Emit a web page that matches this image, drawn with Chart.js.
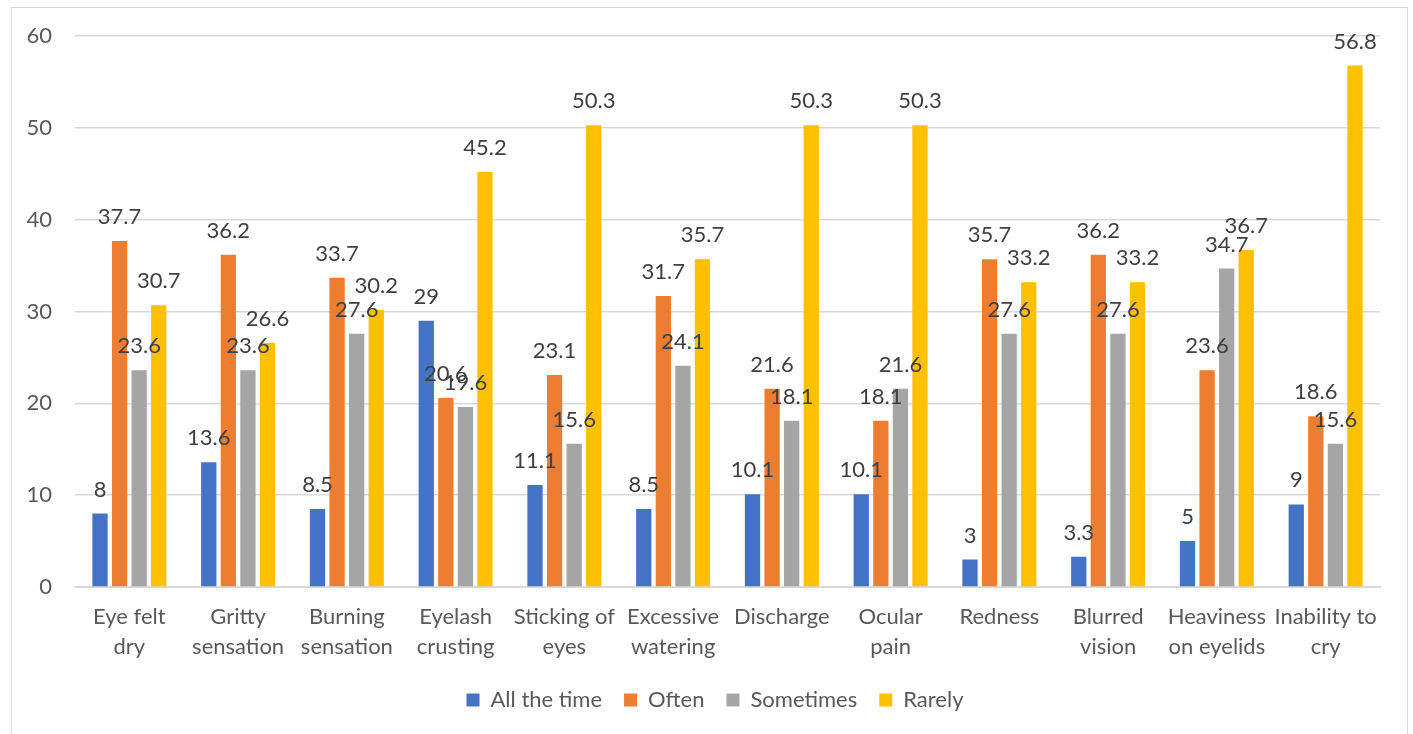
<!doctype html>
<html lang="en">
<head>
<meta charset="utf-8">
<title>Dry eye symptoms frequency</title>
<script src="https://cdn.jsdelivr.net/npm/chart.js@4.4.1/dist/chart.umd.min.js"></script>
<style>
  html, body { margin: 0; padding: 0; background: #fff; overflow: hidden; }
  #wrap { position: relative; width: 1413px; height: 734px; }
  #frame { position: absolute; left: 11px; top: 7px; width: 1397px; height: 760px; border: 1px solid #d9d9d9; box-sizing: border-box; }
  canvas { position: absolute; left: 0; top: 0; }
</style>
</head>
<body>
<div id="wrap">
  <div id="frame"></div>
  <canvas id="myChart" width="1413" height="734"></canvas>
</div>
<script>
// categories (two lines each, as on the axis)
var symptoms = [
  ['Eye felt', 'dry'], ['Gritty', 'sensation'], ['Burning', 'sensation'], ['Eyelash', 'crusting'],
  ['Sticking of', 'eyes'], ['Excessive', 'watering'], ['Discharge'], ['Ocular', 'pain'],
  ['Redness'], ['Blurred', 'vision'], ['Heaviness', 'on eyelids'], ['Inability to', 'cry']
];
var allTheTime = [8, 13.6, 8.5, 29, 11.1, 8.5, 10.1, 10.1, 3, 3.3, 5, 9];
var often      = [37.7, 36.2, 33.7, 20.6, 23.1, 31.7, 21.6, 18.1, 35.7, 36.2, 23.6, 18.6];
var sometimes  = [23.6, 23.6, 27.6, 19.6, 15.6, 24.1, 18.1, 21.6, 27.6, 27.6, 34.7, 15.6];
var rarely     = [30.7, 26.6, 30.2, 45.2, 50.3, 35.7, 50.3, 50.3, 33.2, 33.2, 36.7, 56.8];
var yTicks = [0, 10, 20, 30, 40, 50, 60];

var FONT = 'Lato, "Open Sans", sans-serif';

// value labels over every bar
var barLabels = {
  id: 'barLabels',
  afterDatasetsDraw: function (chart) {
    var ctx = chart.ctx;
    ctx.save();
    ctx.font = '22px ' + FONT;
    ctx.fillStyle = '#404040';
    ctx.textAlign = 'center';
    ctx.textBaseline = 'middle';
    chart.data.datasets.forEach(function (ds, i) {
      chart.getDatasetMeta(i).data.forEach(function (bar, j) {
        ctx.fillText(String(ds.data[j]), bar.x, bar.y - 24);
      });
    });
    ctx.restore();
  }
};

// the legend sits a little right of the canvas centre
var legendShift = {
  id: 'legendShift',
  afterLayout: function (chart) {
    chart.legend.left += 25;
    chart.legend.right += 25;
  }
};

var chart = new Chart(document.getElementById('myChart').getContext('2d'), {
  type: 'bar',
  data: {
    labels: symptoms,
    datasets: [
      { label: 'All the time', data: allTheTime, backgroundColor: '#4472C4' },
      { label: 'Often', data: often, backgroundColor: '#ED7D31' },
      { label: 'Sometimes', data: sometimes, backgroundColor: '#A5A5A5' },
      { label: 'Rarely', data: rarely, backgroundColor: '#FFC000' }
    ]
  },
  options: {
    responsive: false,
    animation: false,
    devicePixelRatio: 1,
    datasets: { bar: { categoryPercentage: 0.72, barPercentage: 0.78 } },
    layout: { padding: { top: 36, right: 33, bottom: 13, left: 0 } },
    scales: {
      x: {
        grid: { display: false, drawTicks: false },
        border: { color: '#d9d9d9', width: 2 },
        ticks: { color: '#595959', font: { family: FONT, size: 22, lineHeight: 1.36 }, padding: 15, maxRotation: 0, autoSkip: false },
        afterFit: function (s) { s.height = 80; }
      },
      y: {
        min: 0, max: 60,
        afterBuildTicks: function (s) { s.ticks = yTicks.map(function (v) { return { value: v }; }); },
        grid: { color: '#d9d9d9', lineWidth: 1.5, drawTicks: false },
        border: { display: false },
        ticks: { color: '#595959', font: { family: FONT, size: 22 }, padding: 23 },
        afterFit: function (s) { s.width = 75; }
      }
    },
    plugins: {
      legend: {
        position: 'bottom',
        labels: { boxWidth: 13, boxHeight: 13, padding: 22, color: '#595959', font: { family: FONT, size: 22 } }
      },
      tooltip: { enabled: false }
    }
  },
  plugins: [barLabels, legendShift]
});
</script>
</body>
</html>
